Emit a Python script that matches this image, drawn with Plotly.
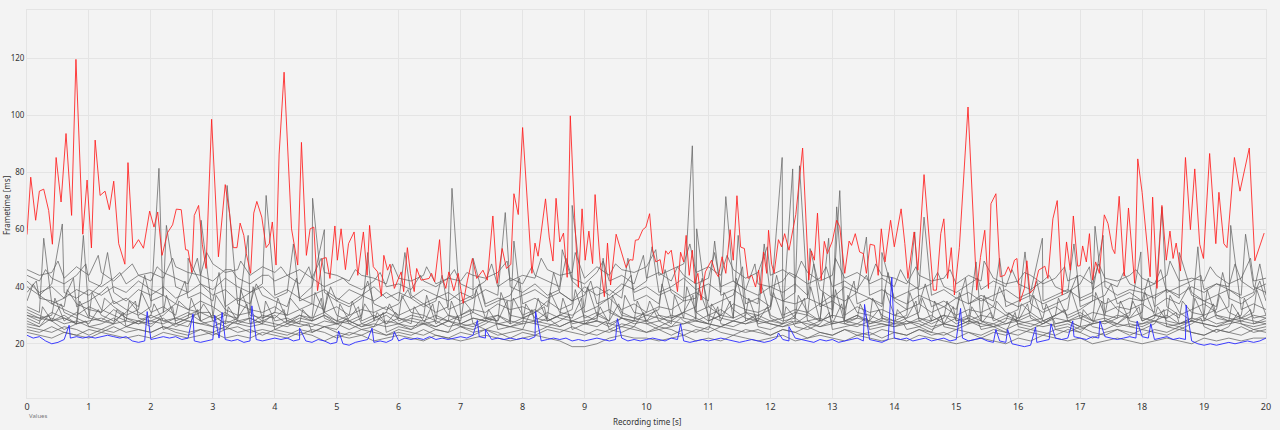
import numpy as np
import plotly.graph_objects as go

# ---------------- data ----------------
red_t = [0, 0.06, 0.14, 0.2, 0.27, 0.35, 0.41, 0.47, 0.55, 0.63, 0.72, 0.79, 0.9, 0.97, 1.04, 1.1, 1.18, 1.26,
         1.33, 1.4, 1.48, 1.58, 1.63, 1.71, 1.8, 1.88, 1.98, 2.05, 2.11, 2.18, 2.27, 2.35, 2.41, 2.49, 2.56, 2.6,
         2.66, 2.7, 2.77, 2.83, 2.89, 2.98, 3.09, 3.2, 3.27, 3.33, 3.39, 3.44, 3.5, 3.54, 3.61, 3.66, 3.71, 3.79,
         3.86, 3.91, 3.96, 4.02, 4.07, 4.15, 4.27, 4.37, 4.43, 4.51, 4.57, 4.63, 4.69, 4.77, 4.83, 4.89, 4.97,
         5.01, 5.07, 5.14, 5.19, 5.28, 5.34, 5.43, 5.49, 5.53, 5.59, 5.66, 5.72, 5.76, 5.82, 5.86, 5.93, 6.04,
         6.08, 6.14, 6.19, 6.25, 6.29, 6.36, 6.49, 6.53, 6.58, 6.66, 6.7, 6.76, 6.81, 6.89, 6.96, 7.04, 7.11,
         7.19, 7.26, 7.36, 7.43, 7.52, 7.59, 7.67, 7.74, 7.81, 7.86, 7.93, 8.0, 8.15, 8.2, 8.25, 8.37, 8.43,
         8.49, 8.54, 8.6, 8.66, 8.72, 8.77, 8.84, 8.9, 8.96, 9.01, 9.07, 9.13, 9.17, 9.25, 9.32, 9.37, 9.42,
         9.51, 9.67, 9.73, 9.78, 9.82, 9.87, 9.94, 9.99, 10.05, 10.1, 10.15, 10.22, 10.26, 10.31, 10.35, 10.4,
         10.45, 10.5, 10.55, 10.6, 10.64, 10.69, 10.74, 10.78, 10.83, 10.88, 10.95, 11.05, 11.11, 11.16, 11.22,
         11.28, 11.35, 11.4, 11.46, 11.52, 11.58, 11.64, 11.7, 11.76, 11.81, 11.85, 11.89, 11.94, 11.97, 12.02,
         12.06, 12.13, 12.18, 12.23, 12.3, 12.41, 12.52, 12.62, 12.66, 12.71, 12.76, 12.82, 12.87, 12.92, 13.0,
         13.07, 13.12, 13.2, 13.27, 13.31, 13.37, 13.44, 13.5, 13.55, 13.61, 13.68, 13.74, 13.79, 13.85, 13.94,
         14.0, 14.11, 14.17, 14.22, 14.32, 14.38, 14.48, 14.55, 14.63, 14.68, 14.75, 14.8, 14.86, 14.92, 14.97,
         15.05, 15.19, 15.33, 15.39, 15.46, 15.52, 15.56, 15.64, 15.71, 15.78, 15.84, 15.88, 15.94, 15.98,
         16.03, 16.1, 16.14, 16.19, 16.26, 16.33, 16.43, 16.48, 16.56, 16.63, 16.71, 16.78, 16.84, 16.89, 16.96,
         17.0, 17.04, 17.1, 17.15, 17.2, 17.25, 17.31, 17.39, 17.45, 17.52, 17.56, 17.63, 17.71, 17.78, 17.88,
         17.93, 18.0, 18.13, 18.17, 18.24, 18.32, 18.39, 18.45, 18.5, 18.55, 18.62, 18.7, 18.78, 18.85, 18.93,
         18.99, 19.09, 19.19, 19.24, 19.32, 19.37, 19.49, 19.58, 19.73, 19.82, 19.97]
red_v = [58.3, 78.4, 63.3, 73.5, 74.2, 66.7, 54.9, 85.3, 69.7, 93.7, 65, 119.7, 58.4, 77.4, 53.6, 91.4, 72, 73.5,
         67, 77, 55.1, 47.9, 83.5, 53.4, 56.5, 53.5, 66.5, 60.9, 66.2, 51, 59, 61.7, 67.2, 67, 53, 52.8,
         45, 65, 68.5, 54.9, 46.4, 98.7, 50.5, 75.8, 65.6, 53.7, 53.7, 62.3, 58, 51.6, 44.7, 65.8, 69.9, 64.4,
         53.7, 55.1, 62.7, 47.6, 86.5, 115.2, 60.3, 47.6, 90.6, 51, 60.3, 60.9, 38.6, 49.9, 50.2, 42.9, 61.3,
         49.3, 60.3, 46, 55.1, 59.2, 44, 59.2, 44, 61.5, 47, 45.2, 36.7, 51, 45.8, 47.9, 39.4, 45.2,
         38.3, 53.7, 44.7, 38.3, 46.4, 42.3, 42.9, 44.7, 41.7, 56.5, 43.5, 39.4, 45.2, 38.6, 44.7, 34.2, 42.3,
         49.9, 42.9, 45.8, 42.3, 64.8, 41.2, 53.4, 46.4, 47.8, 72.6, 65.3, 95.8, 44.7, 55.3, 50.7, 70.8, 57.4,
         49, 71, 55.7, 58.8, 43.3, 99.9, 64.4, 39.8, 67.3, 49.3, 59.5, 48.1, 72.3, 49.1, 36.5, 55.3, 40.6,
         58.4, 46.7, 49.5, 49.3, 56.3, 56.5, 60, 60.9, 65.6, 52.8, 48.7, 49.5, 44.7, 52.6, 51.4, 52.8,
         45.8, 38.3, 52.1, 48.7, 58, 44, 52.8, 41.2, 44.7, 35.3, 45.2, 49.3, 45.2, 43.5, 50.5,
         44.7, 60, 49.3, 71.9, 53.9, 53.4, 42.9, 44, 39.9, 45.8, 37.7, 52.2, 44.7, 59.8, 47.9,
         44.7, 56.5, 54, 58.6, 52.8, 65.3, 88.6, 42.3, 52.6, 49.3, 65.8, 42.3, 55.9, 51.6, 56,
         63.3, 61, 44.7, 56, 54.5, 58.6, 52.2, 51.6, 44.7, 54.9, 54.5, 44, 60.3, 48.7, 63.3,
         54, 67.3, 55.1, 42.9, 59.2, 45.8, 79.3, 60.9, 38.8, 38.8, 58.6, 63.8, 42.9, 53.7, 37.1,
         53.7, 103, 38.8, 50.2, 59.8, 39.4, 69.1, 72.6, 43.5, 44, 47, 44.9, 49.3, 49.9,
         34.8, 39.4, 49.1, 37.7, 39.4, 45.8, 47.2, 42.9, 63.8, 70.2, 37.1, 55.7, 45.8, 64.8, 47.2,
         47.4, 54.3, 48.7, 58.6, 42.3, 48.7, 44.7, 65.2, 62.1, 53.4, 51.6, 71.7, 43.7, 67.6, 41.2,
         84.8, 73.1, 43.5, 71.4, 39.4, 68.5, 49.3, 59.5, 49.9, 55.3, 45.5, 85.3, 60, 81.3, 54.9,
         49.9, 86.7, 55.1, 73.1, 55.1, 53.7, 85.3, 73.5, 88.6, 49.1, 58.8]

# blue: base values every 0.1 s plus spikes
blue_base = [23, 22, 22.5, 21, 20, 20.5, 21.5, 22, 22.5, 22,
             22.5, 22, 22.5, 23, 22.5, 22, 22.5, 21, 20.5, 21,
             21.5, 22, 22.5, 22, 22.5, 21.5, 22, 21, 20.5, 21,
             21.5, 22, 21.5, 21, 21.5, 20.5, 21, 21.5, 21, 21.5,
             22, 21.5, 22, 21, 21.5, 21, 20.5, 21.5, 21, 20,
             20.5, 20, 19.5, 20.5, 21, 21.5, 20.5, 21, 20.5, 21.5,
             21, 22, 21.5, 22, 21.5, 22.5, 21.5, 22, 21.5, 22,
             22.5, 22, 23, 22.5, 22, 21.5, 22, 21.5, 22, 21.5,
             22, 21.5, 22.5, 21, 21.5, 22, 21.5, 22, 21, 21.5,
             21, 21.5, 22, 21.5, 21, 21.5, 22, 21, 21.5, 21,
             21.5, 22, 21.5, 21, 22, 21.5, 21, 20.5, 21, 21.5,
             21, 21.5, 22, 21.5, 21, 20.5, 21, 21.5, 21, 20.5,
             21, 22, 21.5, 21, 22, 21.5, 21, 20.5, 21.5, 21,
             21.5, 20.5, 21, 21.5, 22, 21, 21.5, 21, 20.5, 21.5,
             22, 21.5, 22, 21, 21.5, 22, 21, 21.5, 22, 21,
             21.5, 22, 21, 21.5, 22, 21, 20.5, 21, 20.5, 20,
             19.5, 19, 19.5, 20.5, 21, 21.5, 22, 21.5, 22, 22.5,
             22, 21.5, 22.5, 22, 22.5, 22, 21.5, 22, 22.5, 22,
             22.5, 22, 21.5, 22, 22.5, 21.5, 22, 21.5, 21, 20,
             19.5, 20, 19.5, 20, 20.5, 20, 20.5, 21, 20.5, 21,
             22]
blue_spike_t = [0.68, 1.94, 2.68, 3.03, 3.15, 3.63, 4.4, 5.03, 5.57, 5.93, 7.27, 7.4, 8.21, 9.53, 10.55, 12.13,
                12.3, 13.52, 13.96, 15.07, 15.64, 15.83, 16.28, 16.53, 16.88, 17.32, 17.92, 18.14, 18.71]
blue_spike_v = [26.5, 31.3, 30.5, 30, 31, 33.3, 25.5, 24.5, 25.5, 24.2, 28.2, 25, 31.3, 28.8, 27, 23.8,
                26, 33.8, 43.3, 32.4, 25, 25, 25.8, 27, 28, 28, 28, 27, 33.6]

# gray runs: values every 0.2 s
gray_runs = [
    [46,44,45,43,47,44,45,42,46,44, 45,43,47,45,44,48,45,46,44,47, 45,44,46,43,45,44,42,44,43,41,
     43,42,44,41,43,42,44,43,45,42, 44,43,46,44,45,43,47,44,46,45, 47,44,46,48,45,47,44,46,43,45,
     44,46,43,45,42,44,43,45,42,44, 43,41,44,42,43,41,44,42,43,41, 42,44,41,43,42,44,41,43,42,44,
     43,41,44,42,43,42,44,41,43,42, 43],
    [44,42,43,41,44,42,40,43,41,44, 42,45,43,41,44,42,46,43,41,44, 42,44,41,43,40,42,41,39,42,40,
     41,39,42,40,43,41,39,42,40,43, 41,44,42,40,43,41,45,42,44,41, 43,45,42,44,41,43,40,42,39,41,
     40,42,44,41,43,40,42,39,41,43, 40,42,39,41,40,38,41,39,42,40, 41,39,42,40,38,41,39,42,40,41,
     39,41,38,40,42,39,41,40,42,39, 41],
    [40,37,41,38,36,39,37,40,38,42, 39,37,40,38,41,39,43,40,38,41, 37,39,36,40,38,35,39,37,40,36,
     38,36,39,37,35,38,36,39,37,40, 38,41,37,39,42,38,40,37,41,39, 42,38,40,43,39,41,38,42,39,37,
     40,38,41,37,39,36,40,38,37,39, 36,38,40,37,39,36,38,35,37,39, 36,38,35,37,39,36,38,40,37,39,
     38,36,39,37,40,38,41,39,37,40, 38],
    [35,37,34,36,33,35,38,34,36,33, 35,37,34,36,38,35,33,36,34,37, 35,33,36,34,32,35,33,36,34,32,
     34,36,33,35,32,34,36,33,35,37, 34,36,33,38,35,37,34,36,39,35, 37,34,38,35,36,33,35,37,34,36,
     33,35,34,36,33,35,32,34,36,33, 35,32,34,33,35,32,34,36,33,35, 33,35,32,34,36,33,35,37,34,36,
     35,33,36,34,37,35,33,36,34,37, 35],
    [33,31,34,32,30,33,31,35,32,30, 33,31,34,32,35,33,30,34,32,31, 33,30,32,34,31,33,30,32,31,33,
     30,32,34,31,33,30,32,31,34,32, 33,31,35,32,34,31,33,36,32,34, 31,33,32,35,31,33,30,34,32,31,
     33,30,32,31,34,32,30,33,31,32, 30,32,34,31,33,30,32,31,33,30, 32,34,31,33,30,32,35,31,33,32,
     34,31,33,30,32,34,31,33,32,34, 32],
    [31,29,30,28,31,29,32,30,28,31, 29,31,28,30,32,29,31,28,30,29, 31,28,30,29,31,28,30,27,29,31,
     28,30,29,27,30,28,31,29,28,30, 29,31,28,30,32,29,31,28,30,29, 31,28,30,29,31,28,30,32,29,28,
     30,28,29,31,28,30,27,29,28,30, 28,30,29,27,29,28,30,28,29,27, 29,31,28,30,29,31,28,30,29,31,
     28,30,29,31,28,30,29,28,30,29, 30],
    [30,28,31,29,27,30,28,32,29,27, 30,28,29,31,28,30,27,29,31,28, 30,27,29,28,30,28,27,29,28,30,
     27,29,28,30,28,27,29,28,30,27, 29,28,31,29,28,30,28,31,29,28, 30,29,28,31,29,28,30,29,28,30,
     28,29,27,30,28,29,28,30,27,29, 28,27,29,28,30,27,29,28,27,29, 28,30,27,29,28,30,28,29,27,30,
     29,28,30,27,29,28,30,29,28,30, 29],
    [29,27,28,30,27,29,28,27,29,28, 30,28,27,29,28,30,27,28,29,27, 28,29,27,28,30,27,28,26,28,27,
     29,27,28,26,28,27,29,28,27,28, 27,29,28,30,27,28,29,27,29,28, 28,30,27,29,28,27,29,28,30,27,
     28,27,29,26,28,27,28,29,27,28, 27,28,26,28,27,29,27,28,26,28, 27,28,29,27,28,26,28,27,29,28,
     27,29,28,27,28,29,27,28,29,28, 27],
    [28,26,29,27,28,26,27,29,26,28, 27,29,26,28,27,26,28,27,29,27, 26,28,27,26,28,27,25,27,26,28,
     27,25,27,26,28,26,27,25,27,26, 28,27,29,26,28,27,28,26,29,27, 28,26,28,27,29,27,26,28,27,29,
     27,26,28,27,26,28,27,26,28,27, 26,28,27,25,27,26,28,26,27,25, 27,26,28,26,27,25,27,28,26,27,
     26,28,27,26,28,27,26,28,27,26, 27],
    [27,26,28,25,27,26,25,27,26,28, 26,25,27,26,28,26,25,27,26,27, 25,27,26,24,26,25,27,25,26,24,
     26,25,27,25,24,26,25,27,25,26, 25,27,26,28,25,27,26,25,27,26, 27,25,26,28,26,25,27,26,28,26,
     25,27,26,25,27,25,26,27,25,26, 27,25,26,24,26,25,27,25,26,24, 26,25,27,25,26,24,26,25,27,26,
     25,27,26,25,27,26,24,26,27,25, 26],
    [25,24,26,24,23,25,24,26,24,25, 24,26,24,23,25,24,26,24,25,23, 25,24,23,25,24,22,24,23,25,23,
     24,23,25,23,22,24,23,25,24,22, 24,23,25,24,26,24,23,25,24,26, 24,25,23,25,24,26,24,23,25,24,
     23,25,24,22,24,23,25,23,24,22, 24,23,25,23,24,22,24,23,25,24, 23,25,24,23,25,24,22,24,25,23,
     25,24,23,25,24,23,25,24,23,25, 24],
    [24,23,22,24,23,22,24,23,22,23, 22,24,23,22,23,24,22,23,22,24, 23,22,24,23,21,23,22,23,21,22,
     23,22,21,23,22,21,22,23,22,21, 22,23,22,21,19,19,20,22,23,22, 22,21,22,23,21,22,21,23,22,21,
     22,23,21,22,23,22,21,23,22,21, 22,21,23,22,21,20,21,22,21,20, 22,21,23,22,21,22,20,21,22,21,
     20,21,22,21,20,22,21,22,21,22, 22],
    [38,36,35,33,34,32,31,33,30,32, 31,33,30,32,31,29,32,30,31,29, 31,30,32,29,31,30,28,30,29,31,
     29,31,30,28,30,29,31,29,30,28, 30,32,29,31,30,33,30,32,29,31, 30,32,29,31,33,30,32,29,31,30,
     32,29,31,30,28,30,29,31,30,28, 30,29,31,28,30,29,28,30,29,31, 29,31,28,30,32,29,31,30,32,29,
     31,30,32,29,31,30,32,31,29,31, 30],
    [30,29,28,29,27,28,29,27,28,27, 28,27,29,28,27,28,26,28,27,28, 27,26,28,27,26,27,28,26,27,26,
     27,26,27,28,26,27,26,28,27,26, 27,28,27,26,28,27,28,27,26,28, 27,28,26,27,28,27,26,28,27,28,
     27,26,27,28,26,27,28,27,26,27, 26,27,28,26,27,26,28,27,26,27, 28,27,26,27,28,26,27,28,27,26,
     27,28,26,27,28,27,26,27,28,27, 28],
    [42,38,40,36,39,37,41,38,35,39, 37,40,36,38,41,37,39,35,38,40, 36,38,35,37,39,36,34,37,35,38,
     35,37,34,36,38,35,37,34,36,35, 37,39,36,38,35,40,37,39,36,38, 40,37,39,36,38,35,37,39,36,34,
     37,35,38,36,34,37,35,38,36,34, 36,34,37,35,33,36,34,37,35,33, 35,37,34,36,38,35,37,34,36,38,
     35,37,39,36,38,35,37,39,36,38, 37],
    [32,30,28,31,29,27,30,28,31,29, 28,30,27,29,31,28,30,29,27,30, 29,27,30,28,29,27,29,28,30,27,
     29,28,27,29,28,30,27,29,28,27, 29,31,28,30,29,27,30,28,31,29, 28,30,29,31,28,30,28,29,31,28,
     29,27,30,28,29,27,28,30,28,29, 27,29,28,30,27,28,29,27,28,30, 28,29,27,30,28,29,27,28,30,29,
     28,30,29,27,29,28,30,28,29,27, 29],
    [26,25,24,26,25,23,25,24,26,25, 24,26,25,24,25,23,25,26,24,25, 24,23,25,24,26,24,23,25,24,23,
     25,24,23,25,24,26,24,25,23,24, 25,24,26,25,24,23,25,24,26,25, 24,26,25,23,25,24,26,25,24,25,
     23,25,24,26,24,23,25,24,23,25, 24,23,25,24,23,25,24,22,24,23, 25,24,23,25,24,26,24,23,25,24,
     23,25,24,26,24,23,25,24,26,24, 25],
]

# extra frames (spikes) inserted into gray runs: run index, times, values
extra_run = [2, 4, 6, 14, 0, 1, 3, 5, 7, 12, 15, 9]
extra_t = [
    [0.57, 2.25, 3.86, 4.8, 7.72, 8.64, 10.09, 11.28, 12.64, 13.55, 14.48, 16.39, 17.37, 19.67],
    [0.27, 2.13, 3.23, 4.61, 6.86, 8.8, 10.74, 12.19, 13.12, 14.33, 16.11, 17.24, 18.32, 19.43],
    [0.91, 2.81, 3.57, 5.5, 7.86, 9.3, 10.81, 11.48, 12.36, 12.94, 13.07, 15.32, 17.98, 18.9],
    [1.3, 2.6, 4.3, 6.1, 7.2, 9.7, 11.1, 11.9, 12.47, 13.8, 15.7, 16.9, 18.6, 19.9],
    [0.5, 1.15, 1.7, 2.35, 2.9, 3.45, 4.1, 4.75, 5.3, 5.9, 6.45, 7.1, 7.75, 8.3, 8.85, 9.5, 10.15, 10.7,
     11.3, 11.95, 12.5, 13.05, 13.7, 14.35, 14.9, 15.45, 16.1, 16.75, 17.3, 17.9, 18.45, 19.1, 19.75],
    [0.3, 0.95, 1.5, 2.1, 2.75, 3.3, 3.9, 4.55, 5.1, 5.7, 6.35, 6.9, 7.5, 8.15, 8.7, 9.3, 9.95, 10.5,
     11.1, 11.75, 12.3, 12.9, 13.55, 14.1, 14.7, 15.35, 15.9, 16.5, 17.15, 17.7, 18.3, 18.95, 19.5],
    [0.1, 0.75, 1.3, 1.9, 2.55, 3.1, 3.7, 4.35, 4.9, 5.5, 6.15, 6.7, 7.3, 7.95, 8.5, 9.1, 9.75, 10.3,
     10.9, 11.55, 12.1, 12.7, 13.35, 13.9, 14.5, 15.15, 15.7, 16.3, 16.95, 17.5, 18.1, 18.75, 19.3, 19.9],
    [0.45, 1.05, 1.65, 2.25, 2.85, 3.45, 4.05, 4.65, 5.25, 5.85, 6.45, 7.05, 7.65, 8.25, 8.85, 9.45, 10.05,
     10.65, 11.25, 11.85, 12.45, 13.05, 13.65, 14.25, 14.85, 15.45, 16.05, 16.65, 17.25, 17.85, 18.45,
     19.05, 19.65],
    [0.25, 0.85, 1.45, 2.05, 2.65, 3.25, 3.85, 4.45, 5.05, 5.65, 6.25, 6.85, 7.45, 8.05, 8.65, 9.25, 9.85,
     10.45, 11.05, 11.65, 12.25, 12.85, 13.45, 14.05, 14.65, 15.25, 15.85, 16.45, 17.05, 17.65, 18.25,
     18.85, 19.45],
    [0.15, 0.65, 1.25, 1.85, 2.45, 3.05, 3.65, 4.25, 4.85, 5.45, 6.05, 6.65, 7.25, 7.85, 8.45, 9.05, 9.65,
     10.25, 10.85, 11.45, 12.05, 12.65, 13.25, 13.85, 14.45, 15.05, 15.65, 16.25, 16.85, 17.45, 18.05,
     18.65, 19.25, 19.85],
    [0.55, 1.15, 1.75, 2.35, 2.95, 3.55, 4.15, 4.75, 5.35, 5.95, 6.55, 7.15, 7.75, 8.35, 8.95, 9.55, 10.15,
     10.75, 11.35, 11.95, 12.55, 13.15, 13.75, 14.35, 14.95, 15.55, 16.15, 16.75, 17.35, 17.95, 18.55,
     19.15, 19.75],
    [0.35, 0.95, 1.55, 2.15, 2.75, 3.35, 3.95, 4.55, 5.15, 5.75, 6.35, 6.95, 7.55, 8.15, 8.75, 9.35, 9.95,
     10.55, 11.15, 11.75, 12.35, 12.95, 13.55, 14.15, 14.75, 15.35, 15.95, 16.55, 17.15, 17.75, 18.35,
     18.95, 19.55],
]
extra_v = [
    [62, 61.5, 72, 60, 66, 53, 54, 71.6, 53.4, 57.4, 64.4, 57, 58, 58.4],
    [57, 81.5, 75.5, 71, 74.5, 68.5, 89.4, 85.3, 73.7, 59.2, 52.2, 61.2, 67.9, 61.5],
    [58, 63.3, 58, 52, 56, 50, 60.3, 58, 81.3, 57, 68, 48.7, 52.2, 54],
    [52, 50, 55, 52, 50, 50, 56, 55, 82.4, 52, 50, 55, 52, 48],
    [49, 51, 48, 50, 52, 49, 47, 50, 46, 48, 47, 45, 49, 50, 52, 48, 53, 55, 51, 54, 49, 50, 48, 47, 46,
     49, 45, 47, 48, 46, 49, 47, 50],
    [46, 48, 45, 47, 50, 46, 44, 47, 43, 45, 44, 46, 48, 47, 50, 49, 51, 47, 52, 48, 45, 47, 44, 46, 45,
     43, 46, 44, 47, 45, 46, 44, 48],
    [41, 43, 40, 44, 42, 45, 41, 43, 40, 42, 39, 44, 41, 43, 45, 42, 44, 46, 43, 47, 44, 48, 42, 45, 41,
     43, 40, 42, 44, 41, 43, 40, 45, 42],
    [36, 38, 35, 37, 34, 39, 36, 38, 35, 34, 37, 35, 38, 36, 39, 37, 35, 40, 38, 41, 37, 39, 36, 38, 35,
     37, 34, 36, 38, 35, 37, 39, 36],
    [33, 35, 32, 34, 36, 33, 35, 32, 34, 31, 33, 35, 32, 34, 36, 33, 35, 37, 34, 36, 33, 38, 34, 32, 35,
     33, 31, 34, 32, 35, 33, 36, 34],
    [42, 39, 36, 38, 35, 37, 40, 36, 38, 34, 37, 35, 39, 36, 38, 40, 37, 41, 39, 43, 38, 40, 37, 39, 36,
     38, 35, 37, 39, 36, 38, 35, 37, 39],
    [34, 32, 35, 33, 31, 34, 32, 36, 33, 31, 34, 32, 35, 33, 36, 34, 32, 37, 35, 33, 36, 34, 32, 35, 33,
     31, 34, 32, 35, 33, 31, 34, 32],
    [30, 28, 31, 29, 32, 28, 30, 27, 29, 31, 28, 30, 29, 32, 30, 28, 31, 29, 33, 30, 28, 31, 29, 27, 30,
     28, 31, 29, 27, 30, 32, 29, 31],
]

x_ticks = list(range(0, 21))
y_ticks = [20, 40, 60, 80, 100, 120]

# ---------------- figure ----------------
fig = go.Figure()
gray_step = 20.0 / (len(gray_runs[0]) - 1)
for i, run in enumerate(gray_runs):
    t = list(np.arange(len(run)) * gray_step)
    v = list(run)
    for k, r in enumerate(extra_run):
        if r == i:
            t += extra_t[k]
            v += extra_v[k]
    order = np.argsort(t, kind="stable")
    fig.add_trace(go.Scatter(x=np.array(t)[order], y=np.array(v, dtype=float)[order], mode="lines",
                             line=dict(color="rgba(95,95,95,0.72)", width=1), hoverinfo="skip",
                             showlegend=False))

bt = list(np.arange(len(blue_base)) * 0.1) + blue_spike_t
bv = list(blue_base) + blue_spike_v
bo = np.argsort(bt, kind="stable")
fig.add_trace(go.Scatter(x=np.array(bt)[bo], y=np.array(bv)[bo], mode="lines",
                         line=dict(color="rgba(40,40,255,0.9)", width=1), showlegend=False))
fig.add_trace(go.Scatter(x=red_t, y=red_v, mode="lines",
                         line=dict(color="rgba(255,30,30,0.85)", width=1), showlegend=False))

font = "Noto Sans, Open Sans, sans-serif"
fig.update_layout(
    width=1280, height=430,
    margin=dict(l=27, r=11, t=9, b=32),
    paper_bgcolor="#f3f3f3", plot_bgcolor="#f3f3f3",
    font=dict(family=font, size=9, color="#333333"),
    xaxis=dict(range=[0, 20], tickvals=x_ticks, showgrid=True, gridcolor="#e4e4e4", gridwidth=1,
               zeroline=False, showline=True, linecolor="#e4e4e4", mirror=True, ticks="",
               tickfont=dict(size=9, color="#333333")),
    yaxis=dict(range=[1, 137], tickvals=y_ticks, showgrid=True, gridcolor="#e4e4e4", gridwidth=1,
               zeroline=False, showline=True, linecolor="#e4e4e4", mirror=True, ticks="",
               tickfont=dict(size=8, color="#333333")),
    annotations=[
        dict(text="Frametime [ms]", x=-0.0165, y=0.496, xref="paper", yref="paper", textangle=-90,
             xanchor="center", yanchor="middle",
             showarrow=False, font=dict(size=8, color="#333333")),
        dict(text="Recording time [s]", x=0.5, y=-0.06, xref="paper", yref="paper", yanchor="middle",
             showarrow=False, font=dict(size=8, color="#333333")),
        dict(text="Values", x=0, y=-0.046, xref="paper", yref="paper", xanchor="left", yanchor="middle",
             showarrow=False, font=dict(size=6, color="#777777")),
    ],
)
fig.write_html("out.html")
